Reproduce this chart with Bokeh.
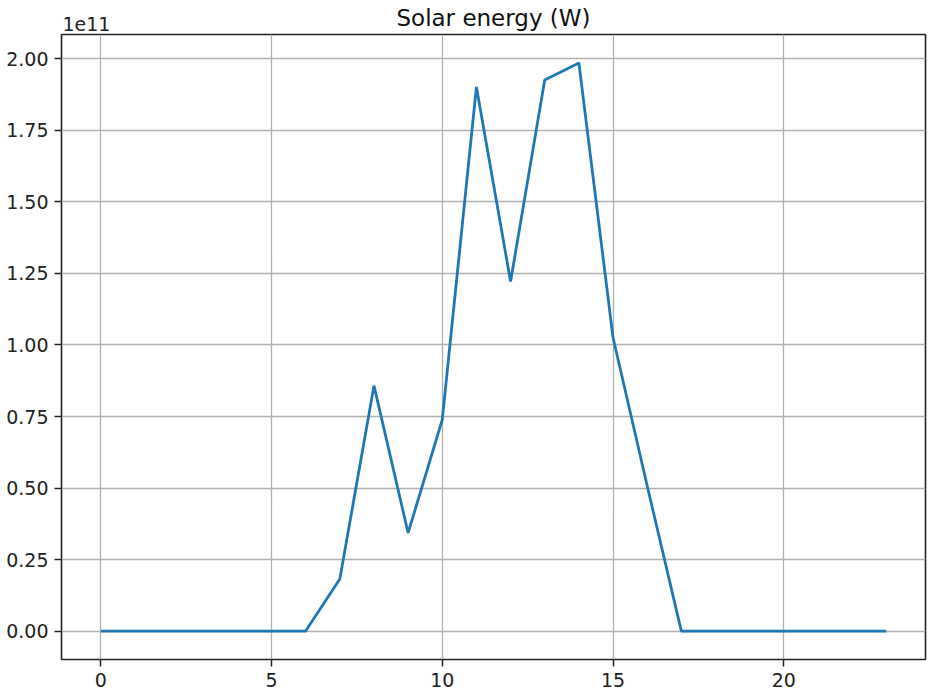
from bokeh.plotting import figure
from bokeh.models import (Range1d, FixedTicker, CustomJSTickFormatter,
                          LinearAxis)
from bokeh.embed import file_html
from bokeh.resources import INLINE

# Hourly solar energy (W)
hours = list(range(24))
solar_w = [0, 0, 0, 0, 0, 0, 0,
           1.82e10, 8.58e10, 3.43e10, 7.39e10, 1.902e11, 1.222e11,
           1.926e11, 1.986e11, 1.026e11, 5.08e10,
           0, 0, 0, 0, 0, 0, 0]
x_ticks = [0, 5, 10, 15, 20]
y_ticks = [0, 0.25e11, 0.5e11, 0.75e11, 1.0e11, 1.25e11, 1.5e11, 1.75e11, 2.0e11]
title_text = "Solar energy (W)"
scale_text = "1e11"

FONT = "DejaVu Sans"
INK = "#222222"

x_pad = 0.05 * (max(hours) - min(hours))
y_pad = 0.05 * (max(solar_w) - min(solar_w))
x0, x1 = min(hours) - x_pad, max(hours) + x_pad
y0, y1 = min(solar_w) - y_pad, max(solar_w) + y_pad

p = figure(width=928, height=695, output_backend="svg", toolbar_location=None,
           x_range=Range1d(x0, x1), y_range=Range1d(y0, y1),
           min_border_left=61, min_border_right=3, min_border_top=34,
           min_border_bottom=36)

p.line(hours, solar_w, line_color="#1f77b4", line_width=2.8)

p.xaxis.ticker = FixedTicker(ticks=x_ticks)
p.yaxis.ticker = FixedTicker(ticks=y_ticks)
p.yaxis.formatter = CustomJSTickFormatter(code="return (tick / 1e11).toFixed(2);")

for ax in (p.xaxis[0], p.yaxis[0]):
    ax.axis_line_color = None
    ax.major_tick_out = 7
    ax.major_tick_in = 0
    ax.major_tick_line_color = INK
    ax.major_tick_line_width = 1.5
    ax.minor_tick_line_color = None
    ax.major_label_text_font = FONT
    ax.major_label_text_font_size = "19px"
    ax.major_label_text_color = INK
    ax.major_label_standoff = 6

# Top strip: the scale factor as a single tick label near the left edge,
# and the chart title as that axis' label, centred over the frame.
scale_pos = x0 + 0.73
top = LinearAxis(ticker=FixedTicker(ticks=[scale_pos]),
                 formatter=CustomJSTickFormatter(code=f"return '{scale_text}';"),
                 axis_line_color=None, major_tick_line_color=None,
                 minor_tick_line_color=None, major_tick_out=0, major_tick_in=0,
                 major_label_standoff=4,
                 major_label_text_font=FONT, major_label_text_font_size="19px",
                 major_label_text_color=INK,
                 axis_label=title_text, axis_label_standoff=-17,
                 axis_label_text_font=FONT, axis_label_text_font_size="23px",
                 axis_label_text_font_style="normal",
                 axis_label_text_color="#111111")
p.add_layout(top, "above")

p.grid.grid_line_color = "#b0b0b0"
p.grid.grid_line_width = 1.3

p.outline_line_color = INK
p.outline_line_width = 1.6
p.outline_line_alpha = 1.0
p.background_fill_color = "white"
p.border_fill_color = "white"

open("out.html", "w").write(file_html(p, INLINE))
